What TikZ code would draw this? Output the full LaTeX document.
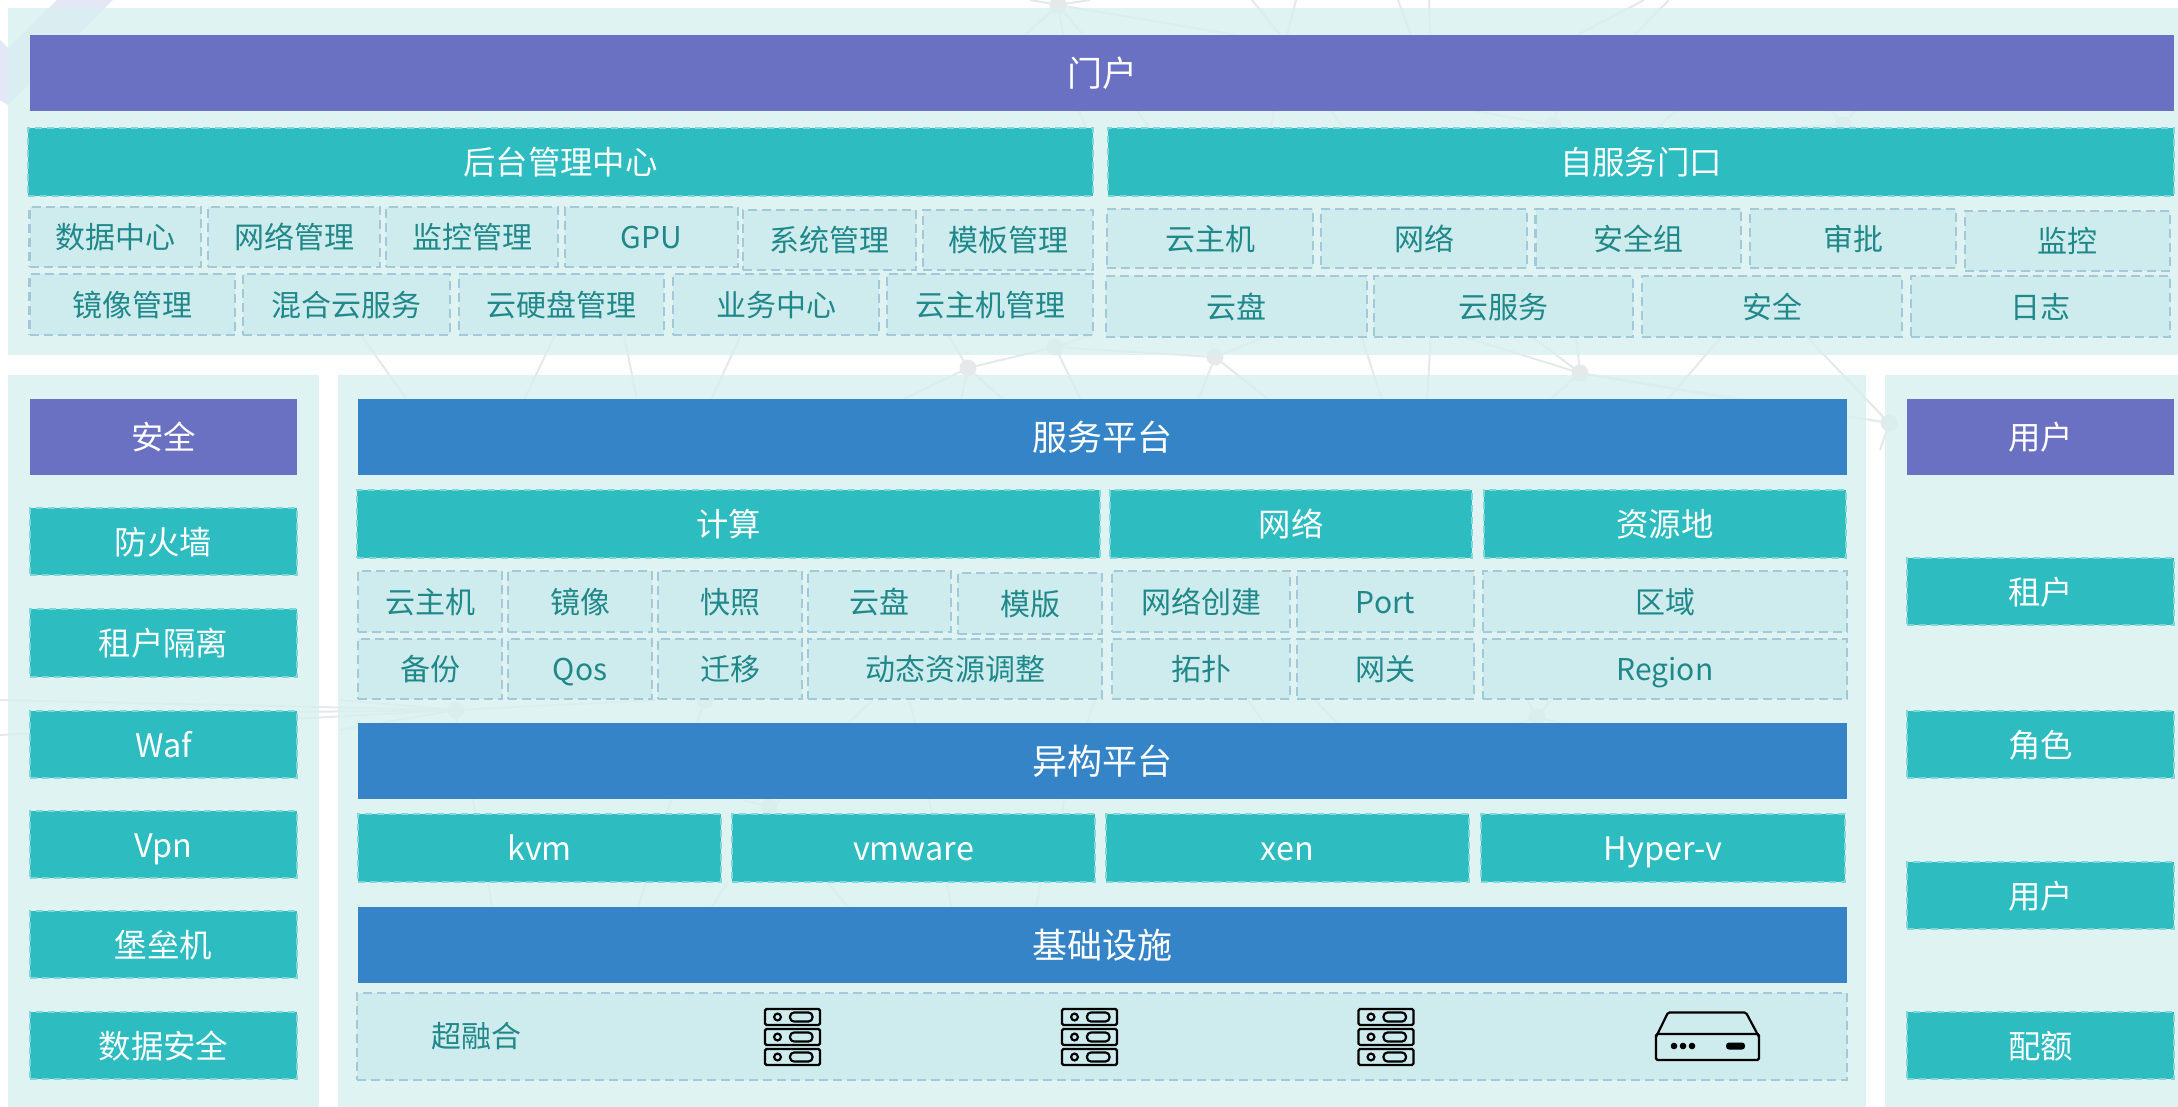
\documentclass[tikz,border=0pt]{standalone}
\usepackage{fontspec}
\setmainfont{Noto Sans CJK SC}
\definecolor{panelc}{HTML}{D8F0F0}
\definecolor{purplec}{HTML}{6A71C3}
\definecolor{bluec}{HTML}{3584C7}
\definecolor{tealc}{HTML}{2DBCC0}
\definecolor{teald}{HTML}{7FD7D9}
\definecolor{lightc}{HTML}{CEECEE}
\definecolor{lightd}{HTML}{A3C8D8}
\definecolor{textc}{HTML}{21888A}
\definecolor{shapec}{HTML}{E4E8F6}
\definecolor{webc}{HTML}{E6E9EA}
\tikzset{
  x=1pt,y=-1pt,
  boxbase/.style={anchor=north west,inner sep=0pt,outer sep=0pt,align=center},
  bartext/.style={font=\fontsize{35}{42}\selectfont,text height=30.6pt,text depth=4.4pt},
  bigtext/.style={font=\fontsize{32.4}{38}\selectfont,text height=29pt,text depth=3.5pt},
  smalltext/.style={font=\fontsize{30}{36}\selectfont,text height=26.6pt,text depth=3.4pt},
  panelbox/.style={fill=panelc,fill opacity=0.8},
  purplebar/.style={boxbase,bartext,fill=purplec,text=white},
  sidebar/.style={boxbase,bigtext,fill=purplec,text=white},
  bluebar/.style={boxbase,bartext,fill=bluec,text=white},
  tealbox/.style={boxbase,bigtext,fill=tealc,text=white,draw=teald,line width=1.3pt,dash pattern=on 7pt off 5pt},
  lightbox/.style={boxbase,smalltext,fill=lightc,text=textc,draw=lightd,line width=2.4pt,dash pattern=on 9pt off 5pt},
  webline/.style={draw=webc,line width=2pt},
  webdot/.style={fill=webc,draw=none,circle,minimum size=17pt,inner sep=0pt},
  iconline/.style={draw=black,line width=2.2pt,rounded corners=1.5pt},
  iconfill/.style={fill=black,draw=none},
}
% \bx{style}{name}{x1}{y1}{x2}{y2}{text}
\newcommand{\bx}[7]{%
  \pgfmathsetmacro{\bxw}{#5-#3}\pgfmathsetmacro{\bxh}{#6-#4}%
  \node[#1,minimum width=\bxw pt,minimum height=\bxh pt] (#2) at (#3,#4) {#7};}
% server icon, top-left at (#1,#2)
\newcommand{\servericon}[2]{%
  \begin{scope}[shift={(#1,#2)}]
    \foreach \ty in {1,21,41}{
      \draw[iconline] (0,\ty) rectangle (55,\ty+16);
      \draw[line width=2.2pt] (12.5,\ty+8) circle (3.4pt);
      \draw[line width=2.2pt,rounded corners=4pt] (25,\ty+3.5) rectangle (47.5,\ty+12.5);
    }
  \end{scope}}
\begin{document}
\begin{tikzpicture}
\useasboundingbox (0,0) rectangle (2178,1107);
\fill[white] (0,0) rectangle (2178,1107);
% faint decoration at top left
\fill[shapec] (57,0) -- (113,0) -- (8,105) -- (0,100) -- (0,40) -- (8,48) -- cycle;
% background web
\foreach \wn/\wx/\wy in {a/1058/5,b/1055/347,c/1215/357,d/968/368,e/1580/373,f/1889/423,g/456/710,h/1537/717,i/769/807,j/1553/125,k/1843/125,l/705/700}{
  \coordinate (w\wn) at (\wx,\wy);
  \node[webdot] (wd\wn) at (\wx,\wy) {};
}
\draw[webline] (wa) -- (1236,35) -- (1300,55) (wa) -- (1025,35) (wa) -- (1063,35) (wa) -- (1083,35) (wa) -- (1030,0) (wa) -- (1090,0)
  (1252,0) -- (1294,52) (1296,0) -- (1283,52) (1398,0) -- (1420,60) (1429,0) -- (1431,60) (1644,0) -- (1530,60) (1669,0) -- (1610,60)
  (1079,111) -- (1086,128) (1137,111) -- (1150,128) (1274,111) -- (1271,128) (1331,111) -- (1344,128)
  (1475,111) -- (wj) -- (1542,128) (wj) -- (1570,60) (1676,111) -- (1657,128)
  (wk) -- (1790,60) (wk) -- (1900,60) (wk) -- (1860,128) (wk) -- (1780,128);
\draw[webline] (wd) -- (wb) -- (wc) (wb) -- (1091,335) (wb) -- (1081,400) (wd) -- (902,400)
  (wd) -- (961,400) (wd) -- (1004,400) (wc) -- (1198,400) (wc) -- (1269,400) (wc) -- (1269,335)
  (wd) -- (948,335);
\draw[webline] (we) -- (1458,335) (we) -- (1530,335) (we) -- (1576,335) (we) -- (1550,400) (we) -- (1739,400) (we) -- (wf)
  (1723,335) -- (1667,400) (1805,335) -- (wf) (wf) -- (1880,450) (1361,335) -- (1382,400) (1431,335) -- (1427,400);
\draw[webline] (361,335) -- (407,400) (555,335) -- (524,400) (624,335) -- (637,400) (741,335) -- (711,400);
\draw[webline] (wg) -- (656,700) (wg) -- (340,730) (wg) -- (340,700) (wg) -- (457,723) (wg) -- (291,712) (wg) -- (0,735) (wg) -- (0,700)
  (wl) -- (697,723) (wl) -- (660,695);
\draw[webline] (873,700) -- (848,723) (909,700) -- (915,723) (1095,700) -- (1087,723) (1248,700) -- (1264,723) (1315,700) -- (1337,723);
\draw[webline] (wh) -- (1527,700) (wh) -- (1551,700) (wh) -- (1520,723) (wh) -- (1560,723);
\draw[webline] (473,799) -- (475,814) (672,799) -- (666,814) (wi) -- (743,800) (wi) -- (780,800) (929,799) -- (932,814) (1064,799) -- (1062,814);
\draw[webline] (488,882) -- (492,907) (646,882) -- (638,907) (728,882) -- (712,907) (827,882) -- (848,907) (947,882) -- (951,907) (1041,882) -- (1036,907);
% panels
\fill[panelbox] (8,8) rectangle (2178,355);
\fill[panelbox] (8,375) rectangle (319,1107);
\fill[panelbox] (338,375) rectangle (1866,1107);
\fill[panelbox] (1885,375) rectangle (2178,1107);
% top section
\bx{purplebar}{portal}{30}{35}{2174}{111}{门户}
\bx{tealbox}{backend}{28}{128}{1093}{196}{后台管理中心}
\bx{tealbox}{selfsvc}{1108}{128}{2174}{196}{自服务门口}
\bx{lightbox}{t1}{29.5}{207}{201}{267}{数据中心}
\bx{lightbox}{t2}{208}{207}{380}{267}{网络管理}
\bx{lightbox}{t3}{386}{207}{558}{267}{监控管理}
\bx{lightbox}{t4}{565}{207}{738}{267}{GPU}
\bx{lightbox}{t5}{743}{210}{916}{270}{系统管理}
\bx{lightbox}{t6}{923}{210}{1093}{270}{模板管理}
\bx{lightbox}{u1}{29.5}{274}{235}{335}{镜像管理}
\bx{lightbox}{u2}{243}{274}{450}{335}{混合云服务}
\bx{lightbox}{u3}{459}{274}{664}{335}{云硬盘管理}
\bx{lightbox}{u4}{673}{274}{879}{335}{业务中心}
\bx{lightbox}{u5}{887}{274}{1093}{335}{云主机管理}
\bx{lightbox}{v1}{1107}{209}{1313}{268}{云主机}
\bx{lightbox}{v2}{1321}{209}{1527}{268}{网络}
\bx{lightbox}{v3}{1535.5}{209}{1741}{268}{安全组}
\bx{lightbox}{v4}{1750}{209}{1956}{268}{审批}
\bx{lightbox}{v5}{1965}{211}{2170}{271}{监控}
\bx{lightbox}{w1}{1106}{276}{1367}{337}{云盘}
\bx{lightbox}{w2}{1374}{276}{1633}{337}{云服务}
\bx{lightbox}{w3}{1642}{276}{1902}{337}{安全}
\bx{lightbox}{w4}{1911}{276}{2170}{337}{日志}
% left column
\bx{sidebar}{secbar}{30}{399}{297}{475}{安全}
\bx{tealbox}{s1}{30}{508}{297}{575}{防火墙}
\bx{tealbox}{s2}{30}{609}{297}{677}{租户隔离}
\bx{tealbox}{s3}{30}{711}{297}{778}{Waf}
\bx{tealbox}{s4}{30}{811}{297}{878}{Vpn}
\bx{tealbox}{s5}{30}{911}{297}{978}{堡垒机}
\bx{tealbox}{s6}{30}{1012}{297}{1079}{数据安全}
% middle
\bx{bluebar}{svc}{358}{399}{1847}{475}{服务平台}
\bx{tealbox}{comp}{357}{490}{1100}{558}{计算}
\bx{tealbox}{net}{1110}{490}{1472}{558}{网络}
\bx{tealbox}{res}{1484}{490}{1846}{558}{资源地}
\bx{lightbox}{c1}{358}{571}{502}{632}{云主机}
\bx{lightbox}{c2}{508}{571}{652}{632}{镜像}
\bx{lightbox}{c3}{658}{571}{802}{632}{快照}
\bx{lightbox}{c4}{808}{571}{951}{632}{云盘}
\bx{lightbox}{c5}{958}{573}{1102}{634}{模版}
\bx{lightbox}{c6}{1112}{571}{1290}{632}{网络创建}
\bx{lightbox}{c7}{1297}{571}{1474}{632}{Port}
\bx{lightbox}{c8}{1483}{571}{1847}{632}{区域}
\bx{lightbox}{d1}{358}{639}{502}{699}{备份}
\bx{lightbox}{d2}{508}{639}{652}{699}{Qos}
\bx{lightbox}{d3}{658}{639}{802}{699}{迁移}
\bx{lightbox}{d4}{808}{639}{1102}{699}{动态资源调整}
\bx{lightbox}{d5}{1112}{639}{1290}{699}{拓扑}
\bx{lightbox}{d6}{1297}{639}{1474}{699}{网关}
\bx{lightbox}{d7}{1483}{639}{1847}{699}{Region}
\bx{bluebar}{hetero}{358}{723}{1847}{799}{异构平台}
\bx{tealbox}{kvm}{358}{814}{721}{882}{kvm}
\bx{tealbox}{vmw}{732}{814}{1095}{882}{vmware}
\bx{tealbox}{xen}{1106}{814}{1469}{882}{xen}
\bx{tealbox}{hyp}{1481}{814}{1845}{882}{Hyper-v}
\bx{bluebar}{infra}{358}{907}{1847}{983}{基础设施}
\bx{lightbox}{hci}{357}{993}{1847}{1080}{}
\node[smalltext,text=textc,inner sep=0pt] (hcilabel) at (476,1036) {超融合};
\servericon{765}{1008}
\servericon{1062}{1008}
\servericon{1358.5}{1008}
% box icon
\draw[iconline] (1656,1037) -- (1668,1012.5) -- (1746,1012.5) -- (1759,1037);
\draw[iconline] (1656,1034) rectangle (1759,1060);
\fill[iconfill] (1674,1046) circle (3.3pt) (1683,1046) circle (3.3pt) (1692,1046) circle (3.3pt);
\fill[iconfill,rounded corners=3pt] (1726,1042.5) rectangle (1745,1049.5);
% right column
\bx{sidebar}{userbar}{1907}{399}{2174}{475}{用户}
\bx{tealbox}{r1}{1907}{558}{2174}{625}{租户}
\bx{tealbox}{r2}{1907}{711}{2174}{778}{角色}
\bx{tealbox}{r3}{1907}{862}{2174}{929}{用户}
\bx{tealbox}{r4}{1907}{1012}{2174}{1079}{配额}
\end{tikzpicture}
\end{document}
